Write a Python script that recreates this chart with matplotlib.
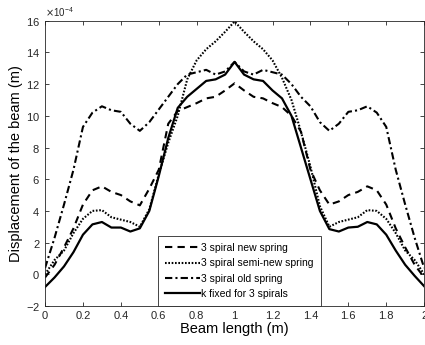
import numpy as np
import matplotlib
matplotlib.use('Agg')
import matplotlib.pyplot as plt
from matplotlib.ticker import FormatStrFormatter, ScalarFormatter

plt.rcParams['font.family'] = ['Liberation Sans', 'DejaVu Sans']

# beam position (m)
x = np.arange(0, 2.0001, 0.05)

# displacement values in units of 1e-4 m
new_spring = [-0.2, 0.6, 1.7, 2.9, 4.4, 5.3, 5.55, 5.2, 5.0, 4.6, 4.35,
              5.4, 6.6, 9.5, 10.3, 10.55, 10.8, 11.1, 11.2, 11.6, 12.05,
              11.6, 11.2, 11.1, 10.8, 10.55, 10.0, 9.0, 6.6, 5.3, 4.4,
              4.6, 5.0, 5.2, 5.55, 5.3, 4.4, 2.9, 1.7, 0.6, -0.2]
semi_new_spring = [0.0, 0.9, 1.5, 2.6, 3.5, 4.0, 4.05, 3.6, 3.45, 3.3, 3.0,
                   4.1, 6.3, 8.3, 10.0, 12.3, 13.5, 14.2, 14.7, 15.3, 15.95,
                   15.3, 14.7, 14.2, 13.5, 12.4, 11.0, 9.0, 6.8, 4.3, 3.0,
                   3.3, 3.45, 3.6, 4.05, 4.0, 3.5, 2.6, 1.5, 0.9, 0.0]
old_spring = [0.4, 2.3, 4.4, 6.6, 9.3, 10.2, 10.6, 10.35, 10.25, 9.5, 9.05,
              9.6, 10.4, 11.2, 12.0, 12.6, 12.75, 12.9, 12.6, 12.8, 13.4,
              12.8, 12.6, 12.9, 12.75, 12.6, 12.0, 11.2, 10.6, 9.6, 9.05,
              9.5, 10.25, 10.35, 10.6, 10.2, 9.3, 6.6, 4.4, 2.3, 0.4]
k_fixed = [-0.8, -0.2, 0.5, 1.4, 2.5, 3.15, 3.3, 2.95, 2.95, 2.7, 2.9,
           4.0, 6.2, 8.6, 10.5, 11.2, 11.7, 12.2, 12.3, 12.6, 13.4,
           12.6, 12.3, 12.2, 11.6, 11.1, 10.0, 8.0, 6.0, 4.0, 2.85,
           2.7, 2.95, 3.0, 3.3, 3.15, 2.5, 1.5, 0.6, -0.1, -0.75]

labels = ['3 spiral new spring', '3 spiral semi-new spring',
          '3 spiral old spring', 'k fixed for 3 spirals']

fig = plt.figure(figsize=(4.25, 3.45), dpi=100)
ax = fig.add_axes([0.106, 0.113, 0.892, 0.827])

scale = 1e-4
ax.plot(x, np.array(new_spring) * scale, color='black', lw=1.5,
        dashes=(3.5, 2.5), label=labels[0])
ax.plot(x, np.array(semi_new_spring) * scale, color='black', lw=1.5,
        dashes=(0.8, 0.8), label=labels[1])
ax.plot(x, np.array(old_spring) * scale, color='black', lw=1.5,
        dashes=(3.5, 1.5, 1, 1.5), label=labels[2])
ax.plot(x, np.array(k_fixed) * scale, color='black', lw=1.6,
        label=labels[3])

ax.set_xlim(0, 2)
ax.set_ylim(-2e-4, 16e-4)
ax.set_xticks(np.arange(0, 2.01, 0.2))
ax.xaxis.set_major_formatter(FormatStrFormatter('%g'))
ax.set_yticks(np.arange(-2, 16.1, 2) * scale)
fmt = ScalarFormatter(useMathText=True)
fmt.set_powerlimits((-4, -4))
ax.yaxis.set_major_formatter(fmt)
ax.yaxis.get_offset_text().set_fontsize(7)
ax.yaxis.get_offset_text().set_color('#262626')

ax.tick_params(direction='in', top=True, right=True, labelsize=8,
               colors='#262626', length=3, width=0.6)
for s in ax.spines.values():
    s.set_linewidth(0.6)
    s.set_color('#262626')

ax.set_xlabel('Beam length (m)', fontsize=10.5, labelpad=1)
ax.set_ylabel('Displacement of the beam (m)', fontsize=10.5, labelpad=2)

leg = ax.legend(loc='lower left', bbox_to_anchor=(0.298, 0.0),
                borderaxespad=0, fontsize=7.5, fancybox=False,
                edgecolor='#262626', framealpha=1, handlelength=3.3,
                handletextpad=0.15, labelspacing=0.5, borderpad=0.7)
leg.get_frame().set_linewidth(0.6)

fig.savefig('out.png', dpi=100)
